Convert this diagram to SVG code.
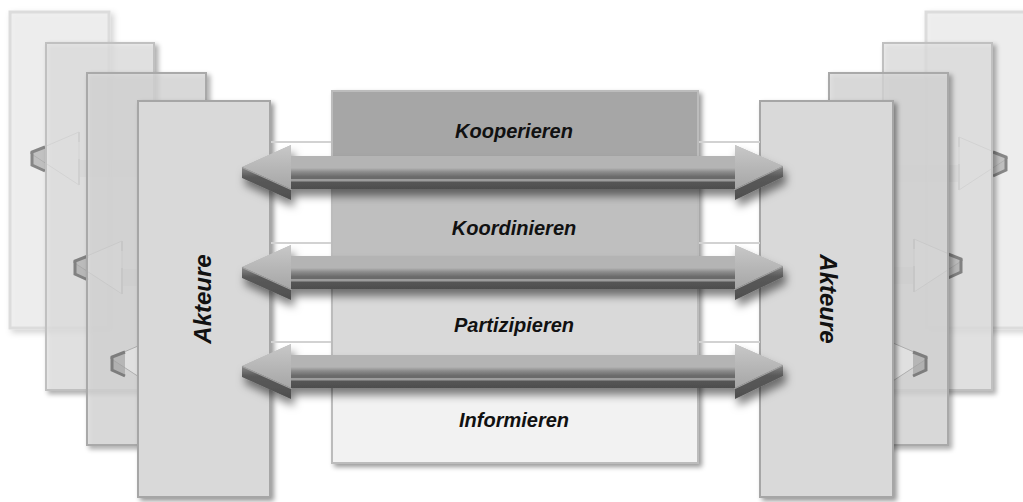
<svg xmlns="http://www.w3.org/2000/svg" width="1023" height="502" viewBox="0 0 1023 502">
  <style>
    .lbl { font-family: "Liberation Sans", Arial, sans-serif; font-weight: bold; font-style: italic; fill: #111; text-anchor: middle; }
    .band { font-size: 20px; }
    .actor { font-size: 24px; }
    .main { fill: #d9d9d9; stroke: #a6a6a6; stroke-width: 2; }
    .b1 { fill: #ededed; fill-opacity: 0.8; stroke: #dcdcdc; stroke-width: 3; }
    .b2 { fill: #e3e3e3; fill-opacity: 0.72; stroke: #c0c0c0; stroke-width: 2; }
    .b3 { fill: #dadada; fill-opacity: 0.72; stroke: #a9a9a9; stroke-width: 2; }
    .tier { stroke: #bcbcbc; stroke-width: 2; }
    .edge { stroke: #d2d2d2; stroke-width: 2; fill: none; }
    .ghost { opacity: 0.65; }
  </style>
  <defs>
    <filter id="boxShadow" x="-20%" y="-10%" width="140%" height="120%">
      <feDropShadow dx="3" dy="3" stdDeviation="2.5" flood-color="#000" flood-opacity="0.4"/>
    </filter>
    <filter id="softShadow" x="-20%" y="-10%" width="140%" height="120%">
      <feDropShadow dx="3" dy="3" stdDeviation="3" flood-color="#000" flood-opacity="0.2"/>
    </filter>
    <filter id="arrowShadow" x="-5%" y="-60%" width="110%" height="240%">
      <feDropShadow dx="3" dy="7" stdDeviation="4" flood-color="#000" flood-opacity="0.5"/>
    </filter>
    <linearGradient id="headTop" x1="0" y1="0" x2="0" y2="1">
      <stop offset="0" stop-color="#c8c8c8"/>
      <stop offset="1" stop-color="#a6a6a6"/>
    </linearGradient>
    <linearGradient id="shaftBevel" x1="0" y1="0" x2="0" y2="1">
      <stop offset="0" stop-color="#b3b3b3"/>
      <stop offset="0.35" stop-color="#8c8c8c"/>
      <stop offset="0.8" stop-color="#6a6a6a"/>
      <stop offset="1" stop-color="#6a6a6a"/>
    </linearGradient>
    <linearGradient id="shaftFront" x1="0" y1="0" x2="0" y2="1">
      <stop offset="0" stop-color="#9c9c9c"/>
      <stop offset="0.18" stop-color="#9c9c9c"/>
      <stop offset="0.32" stop-color="#555"/>
      <stop offset="1" stop-color="#4e4e4e"/>
    </linearGradient>
    <linearGradient id="headFront" x1="0" y1="0" x2="0" y2="1">
      <stop offset="0" stop-color="#8a8a8a"/>
      <stop offset="0.3" stop-color="#5a5a5a"/>
      <stop offset="1" stop-color="#4e4e4e"/>
    </linearGradient>

    <!-- double-headed 3D arrow, shaft top edge at y=0 -->
    <g id="dblArrow">
      <polygon points="242,11 291,-11 291,0 735,0 735,-11 783,10 735,33 735,23 291,23 291,33" fill="#b4b4b4"/>
      <polygon points="242,11 291,-11 291,33" fill="url(#headTop)"/>
      <polygon points="783,10 735,-11 735,33" fill="url(#headTop)"/>
      <rect x="291" y="12" width="444" height="11" fill="url(#shaftBevel)"/>
      <rect x="291" y="23" width="444" height="10" fill="url(#shaftFront)"/>
      <polygon points="242,11 291,33 291,44 242,22" fill="url(#headFront)"/>
      <polygon points="735,33 783,10 783,21 735,44" fill="url(#headFront)"/>
      <path d="M242,11.5 L291,33.5 M735,33.5 L783,10.5" stroke="#a0a0a0" stroke-width="1.2" fill="none"/>
    </g>

    <!-- faded arrow tip seen on the rear panels, tip at origin, pointing left -->
    <g id="ghostTip" class="ghost">
      <rect x="49" y="7" width="110" height="17" fill="#b0b0b0" fill-opacity="0.6"/>
      <polygon points="0,0 49,-21 49,32" fill="#f2f2f2" fill-opacity="0.7" stroke="#9a9a9a" stroke-width="1"/>
      <path d="M49,-21 V-11 M49,6 V32" stroke="#8a8a8a" stroke-width="2" fill="none"/>
      <polygon points="2,-1 15,-6 15,18 2,12" fill="#8a8a8a" fill-opacity="0.7"/>
      <path d="M15,-6 L2,-1 L2,12 L15,18" stroke="#505050" stroke-width="3" fill="none"/>
    </g>
  </defs>

  <!-- rear actor panels, left -->
  <g id="actors-left-back">
    <rect class="b1" x="10" y="12" width="99" height="316" filter="url(#softShadow)"/>
    <use href="#ghostTip" x="30" y="153"/>
    <rect class="b2" x="46" y="43" width="108" height="347" filter="url(#boxShadow)"/>
    <use href="#ghostTip" x="73" y="262"/>
    <rect class="b3" x="87" y="73" width="119" height="372" filter="url(#boxShadow)"/>
    <use href="#ghostTip" x="110" y="358"/>
  </g>

  <!-- rear actor panels, right -->
  <g id="actors-right-back">
    <rect class="b1" x="926" y="12" width="100" height="316" filter="url(#softShadow)"/>
    <use href="#ghostTip" transform="translate(1008,158) scale(-1,1)"/>
    <rect class="b2" x="883" y="43" width="109" height="347" filter="url(#boxShadow)"/>
    <use href="#ghostTip" transform="translate(963,260) scale(-1,1)"/>
    <rect class="b3" x="829" y="73" width="119" height="372" filter="url(#boxShadow)"/>
    <use href="#ghostTip" transform="translate(928,358) scale(-1,1)"/>
  </g>

  <!-- front actor panels -->
  <g id="actors-left">
    <rect class="main" x="138" y="101" width="132" height="396" filter="url(#boxShadow)"/>
    <text class="lbl actor" transform="translate(211,299) rotate(-90)">Akteure</text>
  </g>
  <g id="actors-right">
    <rect class="main" x="760" y="101" width="133" height="396" filter="url(#boxShadow)"/>
    <text class="lbl actor" transform="translate(820,299) rotate(90)">Akteure</text>
  </g>

  <!-- interaction levels -->
  <g id="levels" filter="url(#boxShadow)">
    <rect id="level-kooperieren" class="tier" x="332" y="91" width="366" height="93" fill="#a6a6a6"/>
    <rect id="level-koordinieren" class="tier" x="332" y="184" width="366" height="93" fill="#bfbfbf"/>
    <rect id="level-partizipieren" class="tier" x="332" y="277" width="366" height="93" fill="#d9d9d9"/>
    <rect id="level-informieren" class="tier" x="332" y="370" width="366" height="93" fill="#f2f2f2"/>
  </g>
  <g id="level-labels">
    <text class="lbl band" x="514" y="138">Kooperieren</text>
    <text class="lbl band" x="514" y="235">Koordinieren</text>
    <text class="lbl band" x="514" y="332">Partizipieren</text>
    <text class="lbl band" x="514" y="427">Informieren</text>
  </g>

  <!-- connectors -->
  <g id="connectors">
    <path class="edge" d="M271,142 H331 M699,142 H760 M271,243 H331 M699,243 H760 M271,342 H331 M699,342 H760"/>
    <use href="#dblArrow" y="156" filter="url(#arrowShadow)"/>
    <use href="#dblArrow" y="256" filter="url(#arrowShadow)"/>
    <use href="#dblArrow" y="355" filter="url(#arrowShadow)"/>
  </g>
</svg>
